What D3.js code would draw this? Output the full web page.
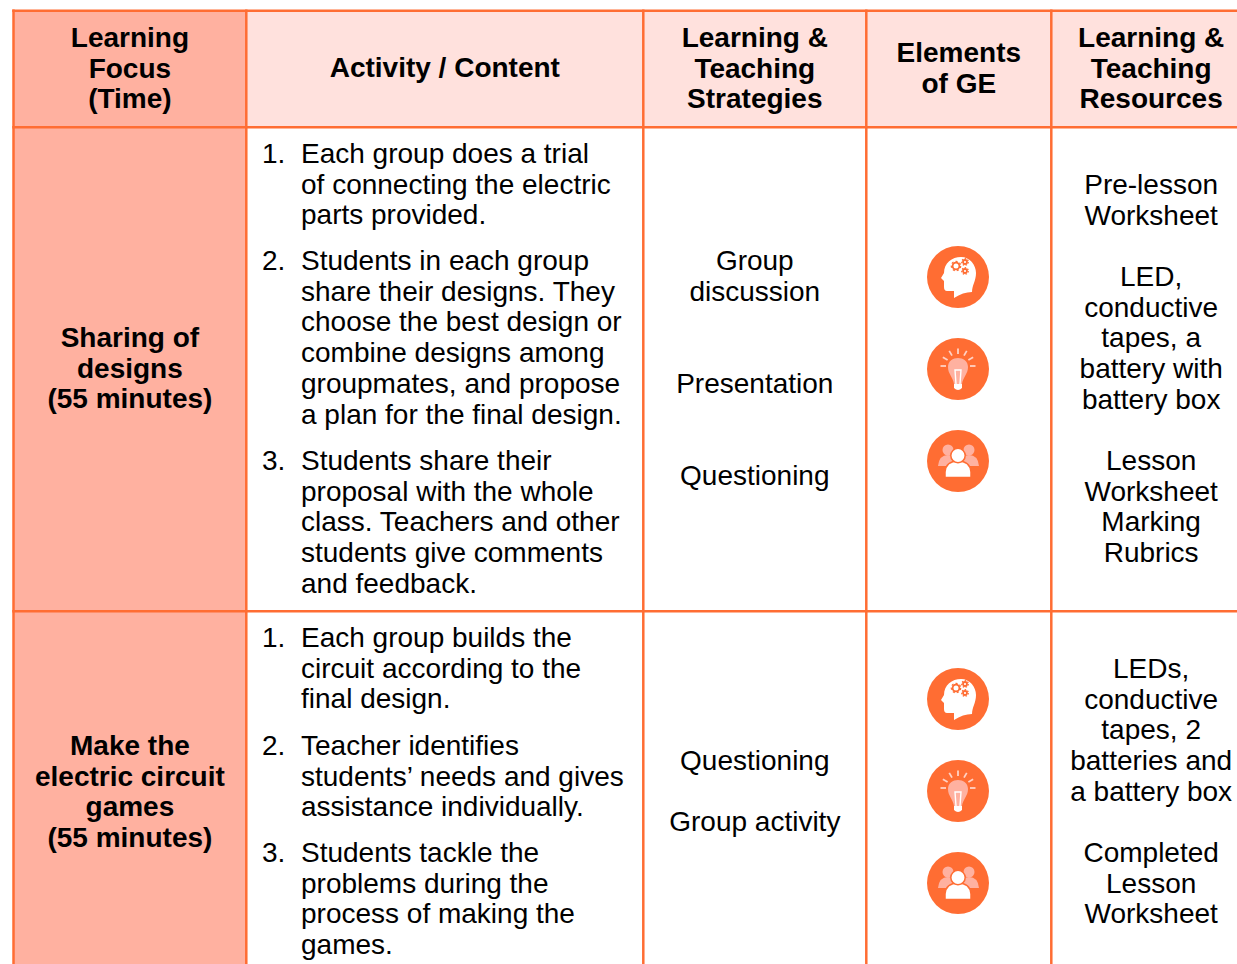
<!DOCTYPE html>
<html lang="en">
<head>
<meta charset="UTF-8">
<title>Lesson plan table</title>
<script src="https://cdn.jsdelivr.net/npm/d3@7"></script>
<style>
  html, body { margin: 0; padding: 0; background: #fff; overflow: hidden; }
  svg { display: block; }
  text { font-family: "Liberation Sans", Arial, sans-serif; fill: #000; }
</style>
</head>
<body>
<div id="graphic"></div>
<script>
// table content
var headers = [
  ["Learning", "Focus", "(Time)"],
  ["Activity / Content"],
  ["Learning &", "Teaching", "Strategies"],
  ["Elements", "of GE"],
  ["Learning &", "Teaching", "Resources"]
];
var focus = [
  ["Sharing of", "designs", "(55 minutes)"],
  ["Make the", "electric circuit", "games", "(55 minutes)"]
];
var activities = [
  [
    ["Each group does a trial", "of connecting the electric", "parts provided."],
    ["Students in each group", "share their designs. They", "choose the best design or", "combine designs among", "groupmates, and propose", "a plan for the final design."],
    ["Students share their", "proposal with the whole", "class. Teachers and other", "students give comments", "and feedback."]
  ],
  [
    ["Each group builds the", "circuit according to the", "final design."],
    ["Teacher identifies", "students\u2019 needs and gives", "assistance individually."],
    ["Students tackle the", "problems during the", "process of making the", "games."]
  ]
];
var strategies = [
  [["Group", "discussion"], ["Presentation"], ["Questioning"]],
  [["Questioning"], ["Group activity"]]
];
var resources = [
  [["Pre-lesson", "Worksheet"], ["LED,", "conductive", "tapes, a", "battery with", "battery box"], ["Lesson", "Worksheet", "Marking", "Rubrics"]],
  [["LEDs,", "conductive", "tapes, 2", "batteries and", "a battery box"], ["Completed", "Lesson", "Worksheet"]]
];
var icons = ["head", "bulb", "people"];

// layout (the last column runs off the right edge of the picture)
var width = 1237, height = 964;
var colEdges = [13.5, 246.3, 643.3, 866.3, 1051.3, 1251];
var rowEdges = [10.8, 127.3, 611.3, 990];
var lineH = 30.7;
var orange = "#ff6d33", salmon = "#ffb1a0", pale = "#ffe1dd";

// first line centre of each block
var focusTop = [338, 746];
var activityTop = [[154, 261, 461], [638, 746, 853]];
var strategyTop = [[261, 384, 476], [761, 822]];
var resourceTop = [[185, 277, 461], [669, 853]];
var iconY = [[277, 369, 461], [699, 791, 883]];
var headerTop = [38, 68, 38, 53, 38];

var svg = d3.select("#graphic").append("svg").attr("width", width).attr("height", height);

function mid(i) { return (colEdges[i] + colEdges[i + 1]) / 2; }

// draws a stack of lines, the first one centred on y
function stack(lines, x, y, opts) {
  opts = opts || {};
  svg.append("g").selectAll("text").data(lines).join("text")
    .attr("x", x)
    .attr("y", function(d, i) { return y + i * lineH + 9; })
    .attr("text-anchor", opts.anchor || "middle")
    .attr("font-weight", opts.bold ? "bold" : "normal")
    .attr("font-size", 28)
    .text(function(d) { return d; });
}

// fills
svg.append("rect").attr("x", colEdges[0]).attr("y", rowEdges[0]).attr("width", colEdges[1] - colEdges[0]).attr("height", height).attr("fill", salmon);
svg.append("rect").attr("x", colEdges[1]).attr("y", rowEdges[0]).attr("width", width - colEdges[1]).attr("height", rowEdges[1] - rowEdges[0]).attr("fill", pale);

// grid
svg.append("g").selectAll("line").data(colEdges.slice(0, 5)).join("line")
  .attr("x1", function(d) { return d; }).attr("x2", function(d) { return d; })
  .attr("y1", rowEdges[0] - 1.25).attr("y2", height)
  .attr("stroke", orange).attr("stroke-width", 2.5);
svg.append("g").selectAll("line").data(rowEdges.slice(0, 3)).join("line")
  .attr("x1", colEdges[0] - 1.25).attr("x2", width)
  .attr("y1", function(d) { return d; }).attr("y2", function(d) { return d; })
  .attr("stroke", orange).attr("stroke-width", 2.5);

// header row
headers.forEach(function(h, i) { stack(h, mid(i), headerTop[i], { bold: true }); });

// body rows
focus.forEach(function(f, r) { stack(f, mid(0), focusTop[r], { bold: true }); });
activities.forEach(function(items, r) {
  items.forEach(function(lines, i) {
    stack([(i + 1) + "."], 262, activityTop[r][i], { anchor: "start" });
    stack(lines, 301, activityTop[r][i], { anchor: "start" });
  });
});
strategies.forEach(function(blocks, r) {
  blocks.forEach(function(lines, i) { stack(lines, mid(2), strategyTop[r][i]); });
});
resources.forEach(function(blocks, r) {
  blocks.forEach(function(lines, i) { stack(lines, mid(4), resourceTop[r][i]); });
});

// icons
function gear(g, x, y, r) {
  g.append("circle").attr("cx", x).attr("cy", y).attr("r", r).attr("fill", "none").attr("stroke", orange).attr("stroke-width", 1.8);
  g.append("circle").attr("cx", x).attr("cy", y).attr("r", r + 1.3).attr("fill", "none").attr("stroke", orange).attr("stroke-width", 1.2)
    .attr("stroke-dasharray", (2 * Math.PI * (r + 1.3) / 14) + "");
}
var drawIcon = {
  head: function(g) {
    g.append("path").attr("fill", "#fff")
      .attr("d", "M-4,21 L-4,14 L-11,14 Q-14,14 -14,10 L-14,4 L-17,1 L-14,-4 C-14,-14 -6,-20 3,-20 C12,-20 18,-12 18,-4 C18,4 14,8 14,15 Q5,15 -4,21Z");
    gear(g, -2, -11, 3.4);
    gear(g, 7, -15, 2);
    gear(g, 7, -6, 2);
  },
  bulb: function(g) {
    g.selectAll("line").data([-90, -60, -30, 0, 30, 60, 90]).join("line")
      .attr("x1", function(d) { return 12 * Math.sin(d * Math.PI / 180); })
      .attr("y1", function(d) { return -3 - 12 * Math.cos(d * Math.PI / 180); })
      .attr("x2", function(d) { return 17.5 * Math.sin(d * Math.PI / 180); })
      .attr("y2", function(d) { return -3 - 17.5 * Math.cos(d * Math.PI / 180); })
      .attr("stroke", "#ffd2c5").attr("stroke-width", 1.8);
    g.append("path").attr("fill", salmon)
      .attr("d", "M-4,15 C-5,8 -10,5 -10,-2 C-10,-8 -5,-11 0,-11 C5,-11 10,-8 10,-2 C10,5 5,8 4,15Z");
    g.append("path").attr("fill", "none").attr("stroke", "#fff").attr("stroke-width", 1.4)
      .attr("d", "M-2,15 L-3,1 L3,1 L2,15");
    g.append("path").attr("fill", "#fff").attr("d", "M-4,15 L4,15 L4,19 Q2,21 0,21 Q-2,21 -4,19Z");
  },
  people: function(g) {
    [-10, 11].forEach(function(x) {
      g.append("circle").attr("cx", x).attr("cy", -11).attr("r", 5.5).attr("fill", salmon);
      g.append("path").attr("fill", salmon)
        .attr("d", "M" + (x - 10) + ",5 Q" + (x - 9) + ",-6 " + x + ",-6 Q" + (x + 9) + ",-6 " + (x + 10) + ",5Z");
    });
    g.append("path").attr("fill", "#fff").attr("stroke", orange).attr("stroke-width", 1.5)
      .attr("d", "M-13,16.5 L-13,11 Q-12,0 0,0 Q12,0 13,11 L13,16.5Z");
    g.append("circle").attr("cy", -5.5).attr("r", 7.2).attr("fill", "#fff").attr("stroke", orange).attr("stroke-width", 1.5);
  }
};
iconY.forEach(function(ys) {
  ys.forEach(function(y, i) {
    var g = svg.append("g").attr("transform", "translate(958," + y + ")");
    g.append("circle").attr("r", 31).attr("fill", orange);
    drawIcon[icons[i]](g);
  });
});
</script>
</body>
</html>
